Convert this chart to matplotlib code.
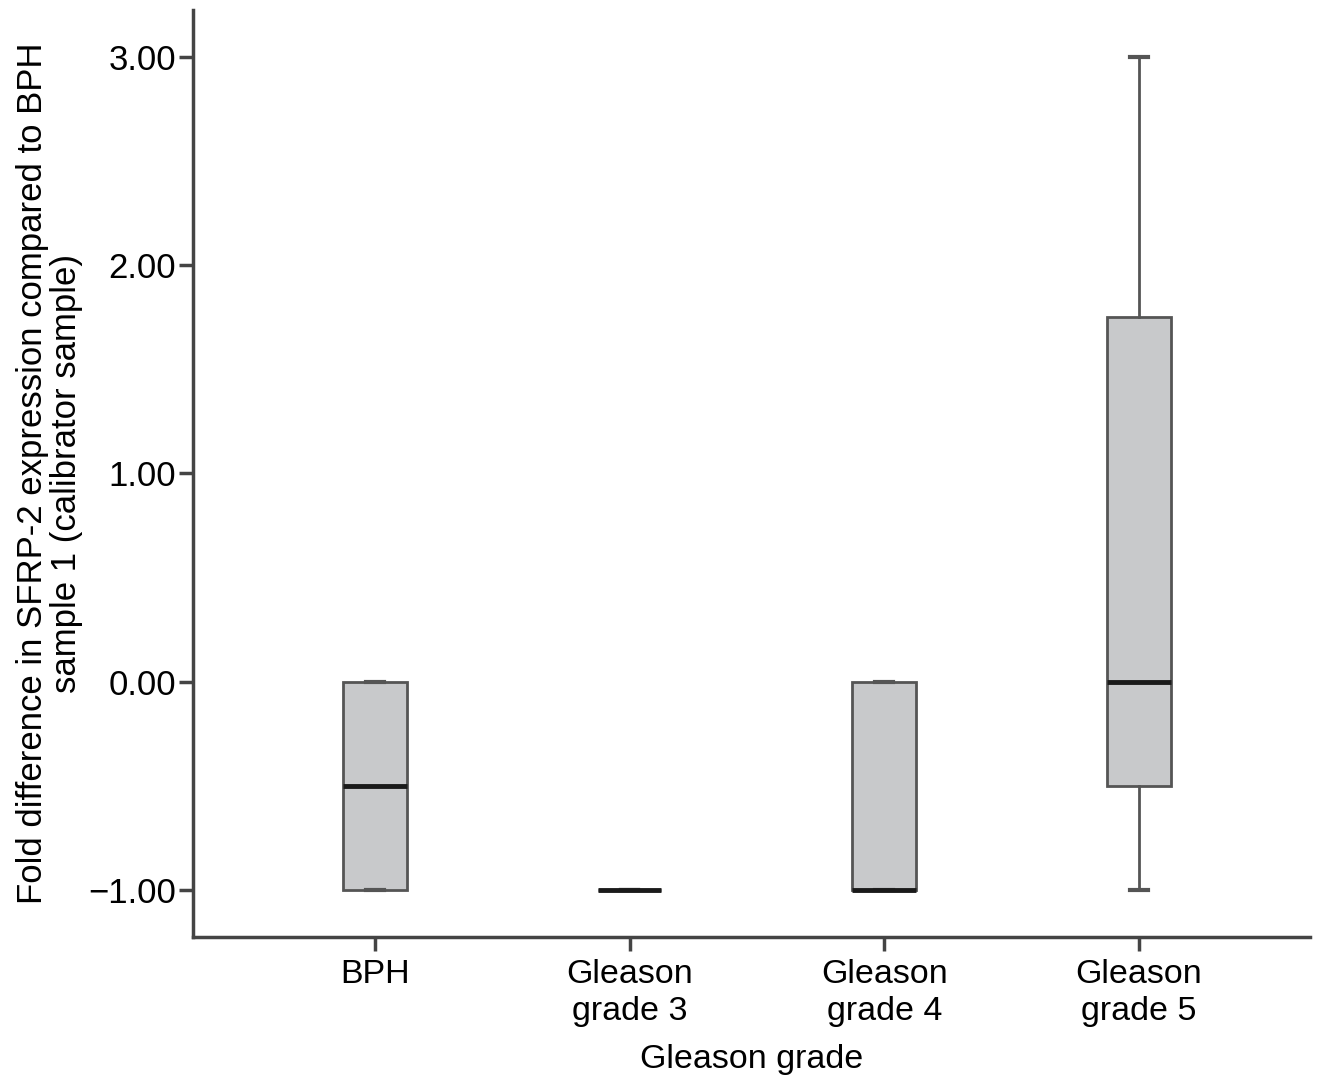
import matplotlib.pyplot as plt

plt.rcParams['font.family'] = ['Liberation Sans', 'DejaVu Sans']

groups = ['BPH', 'Gleason\ngrade 3', 'Gleason\ngrade 4', 'Gleason\ngrade 5']
whislo = [-1.0, -1.0, -1.0, -1.0]
q1 = [-1.0, -1.0, -1.0, -0.5]
med = [-0.5, -1.0, -1.0, 0.0]
q3 = [0.0, -1.0, 0.0, 1.75]
whishi = [0.0, -1.0, 0.0, 3.0]
yticks = [-1, 0, 1, 2, 3]

stats = []
for i in range(len(groups)):
    stats.append(dict(whislo=whislo[i], q1=q1[i], med=med[i], q3=q3[i],
                      whishi=whishi[i], fliers=[]))

fig = plt.figure(figsize=(13.31, 10.81), dpi=100)
ax = fig.add_axes([0.145, 0.133, 0.839, 0.858])

edge = '#555555'
ax.bxp(stats, positions=range(1, 5), widths=0.25, patch_artist=True,
       showfliers=False,
       boxprops=dict(facecolor='#c8c9cb', edgecolor=edge, linewidth=2),
       medianprops=dict(color='#1a1a1a', linewidth=3.5),
       whiskerprops=dict(color=edge, linewidth=2),
       capprops=dict(color=edge, linewidth=3),
       capwidths=0.07)

ax.set_xlim(0.2855, 4.671)
ax.set_ylim(-1.227, 3.227)
ax.set_xticks(range(1, 5))
ax.set_xticklabels(groups, fontsize=24.5, linespacing=1.25)
ax.set_yticks(yticks)
ax.set_yticklabels(['\u22121.00', '0.00', '1.00', '2.00', '3.00'], fontsize=25)

for s in ['top', 'right']:
    ax.spines[s].set_visible(False)
for s in ['left', 'bottom']:
    ax.spines[s].set_color('#444444')
    ax.spines[s].set_linewidth(2.5)
ax.tick_params(axis='both', length=10, width=2.5, color='#444444')
ax.tick_params(axis='y', pad=2)
ax.tick_params(axis='x', pad=6)

ax.set_xlabel('Gleason grade', fontsize=24.5, labelpad=12)
ax.set_ylabel('Fold difference in SFRP-2 expression compared to BPH\nsample 1 (calibrator sample)',
              fontsize=25, labelpad=4, linespacing=1.05)

fig.savefig('out.png', dpi=100)
